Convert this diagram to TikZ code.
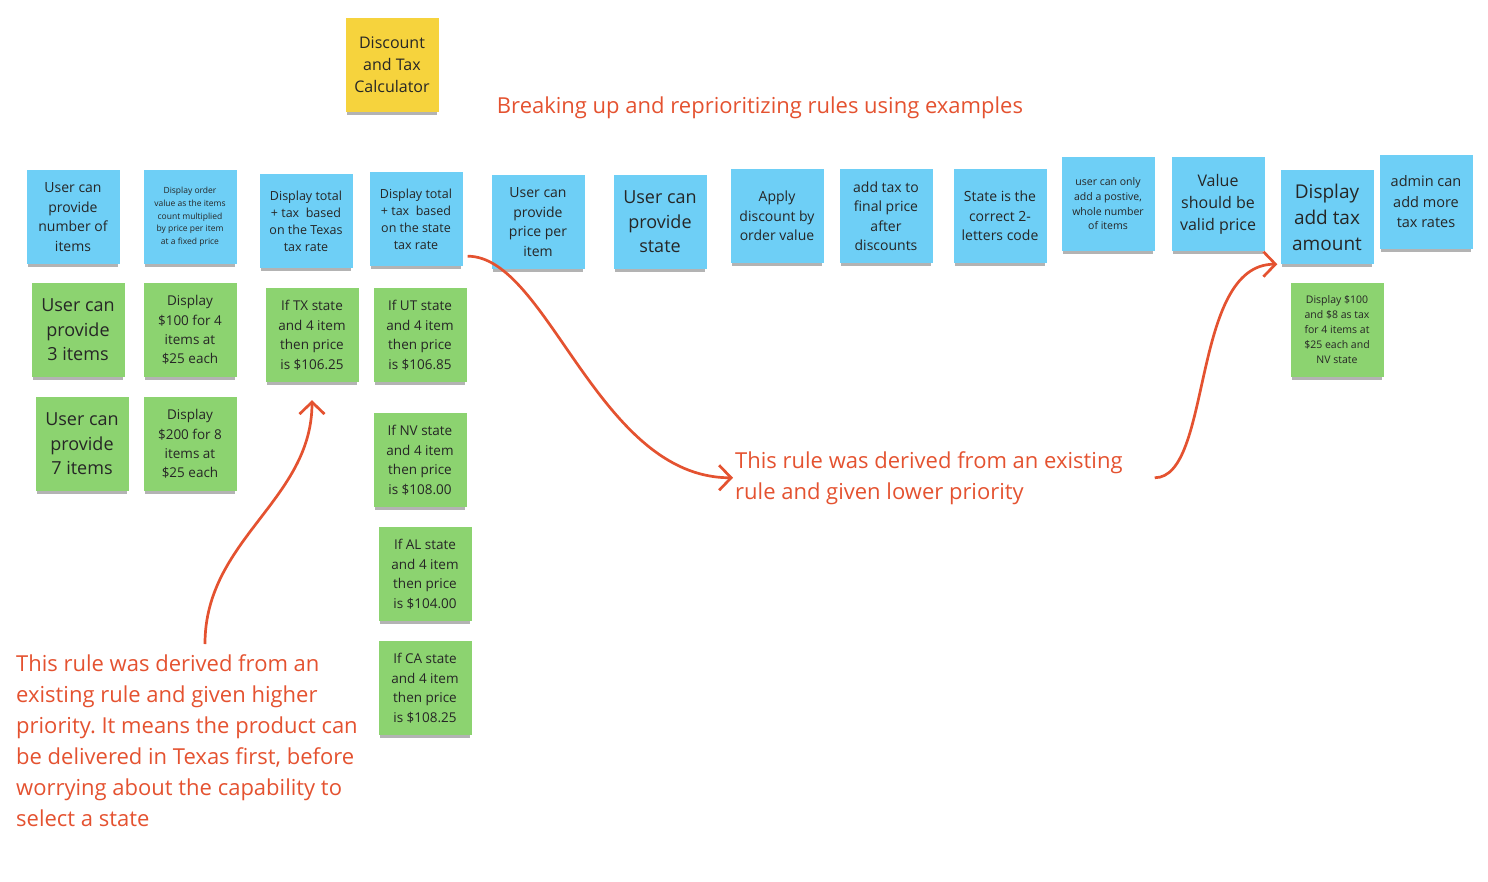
\documentclass[tikz,border=0pt]{standalone}
\usepackage{fontspec}
\setmainfont{Open Sans}
\usepackage{tikz}
\usetikzlibrary{arrows.meta,shadows}
\usepackage{xcolor}
\frenchspacing

\definecolor{noteblue}{RGB}{110,207,246}
\definecolor{notegreen}{RGB}{140,211,112}
\definecolor{noteyellow}{RGB}{246,211,61}
\definecolor{inkgray}{RGB}{38,38,38}
\definecolor{remarkred}{RGB}{228,82,48}

\begin{document}
\begin{tikzpicture}[
    x=1pt, y=-1pt,
    note/.style={minimum width=93pt, minimum height=94pt, inner sep=0pt, align=center, text=inkgray,
        general shadow={fill=black!75, opacity=0.4, shadow yshift=-5pt, shadow scale=0.96}},
    bluenote/.style={note, fill=noteblue},
    greennote/.style={note, fill=notegreen},
    yellownote/.style={note, fill=noteyellow},
    fs/.style 2 args={font=\fontsize{#1}{#2}\selectfont},
    remark/.style={text=remarkred, align=left, inner sep=0pt, fs={22}{31}},
    rulearrow/.style={draw=remarkred, line width=2.7pt, -{Straight Barb[length=12pt,width=25pt]}}
]
\useasboundingbox (0,0) rectangle (1488,881);

% Title
\node[yellownote, fs={16}{22}] (calc) at (392,65) {Discount\\and Tax\\Calculator};
\node[fs={22}{28}, text=remarkred] (title) at (760,108) {Breaking up and reprioritizing rules using examples};

% Rules
\node[bluenote, fs={14}{19.5}] (items) at (73,217) {User can\\provide\\number of\\items};
\node[bluenote, fs={8.5}{12.7}] (order) at (190,217) {Display order\\value as the items\\count multiplied\\by price per item\\at a fixed price};
\node[bluenote, fs={12.5}{17}] (texas) at (306,221) {Display total\\+ tax\ \ based\\on the Texas\\tax rate};
\node[bluenote, fs={12.5}{17}] (statetax) at (416,219) {Display total\\+ tax\ \ based\\on the state\\tax rate};
\node[bluenote, fs={14}{19.5}] (price) at (538,222) {User can\\provide\\price per\\item};
\node[bluenote, fs={18}{24.5}] (state) at (660,222) {User can\\provide\\state};
\node[bluenote, fs={14}{19.5}] (discount) at (777,216) {Apply\\discount by\\order value};
\node[bluenote, fs={14}{19.5}] (final) at (886,216) {add tax to\\final price\\after\\discounts};
\node[bluenote, fs={14}{19.5}] (code) at (1000,216) {State is the\\correct 2-\\letters code};
\node[bluenote, fs={10.5}{14.7}] (whole) at (1108,204) {user can only\\add a postive,\\whole number\\of items};
\node[bluenote, fs={16}{22}] (valid) at (1218,204) {Value\\should be\\valid price};
\node[bluenote, fs={19}{26}] (taxamount) at (1327,217) {Display\\add tax\\amount};
\node[bluenote, fs={14.5}{20.5}] (admin) at (1426,202) {admin can\\add more\\tax rates};

% Examples
\node[greennote, fs={18}{24.5}] (three) at (78,330) {User can\\provide\\3 items};
\node[greennote, fs={13.5}{19.2}] (hundred) at (190,330) {Display\\\$100 for 4\\items at\\\$25 each};
\node[greennote, fs={13.5}{19.5}] (tx) at (312,335) {If TX state\\and 4 item\\then price\\is \$106.25};
\node[greennote, fs={13.5}{19.5}] (ut) at (420,335) {If UT state\\and 4 item\\then price\\is \$106.85};
\node[greennote, fs={18}{24.5}] (seven) at (82,444) {User can\\provide\\7 items};
\node[greennote, fs={13.5}{19.2}] (twohundred) at (190,444) {Display\\\$200 for 8\\items at\\\$25 each};
\node[greennote, fs={13.5}{19.5}] (nv) at (420,460) {If NV state\\and 4 item\\then price\\is \$108.00};
\node[greennote, fs={13.5}{19.5}] (al) at (425,574) {If AL state\\and 4 item\\then price\\is \$104.00};
\node[greennote, fs={13.5}{19.5}] (ca) at (425,688) {If CA state\\and 4 item\\then price\\is \$108.25};
\node[greennote, fs={10.5}{15}] (taxexample) at (1337,330) {Display \$100\\and \$8 as tax\\for 4 items at\\\$25 each and\\NV state};

% Remarks
\node[remark, anchor=north west] (lower) at (735,451) {This rule was derived from an existing\\rule and given lower priority};
\node[remark, anchor=north west] (higher) at (16,654) {This rule was derived from an\\existing rule and given higher\\priority. It means the product can\\be delivered in Texas first, before\\worrying about the capability to\\select a state};

% Arrows
\draw[rulearrow] ([shift={(5,-10)}]statetax.south east) .. controls +(80,0) and +(-135,0) .. ([xshift=-2pt]lower.west);
\draw[rulearrow] ([xshift=32pt]lower.east) .. controls +(58,0) and +(-87,0) .. ([xshift=-3pt]taxamount.south west);
\draw[rulearrow] ([shift={(18,-10)}]higher.north) .. controls +(0,-105) and +(0,100) .. ([yshift=-18pt]tx.south);

\end{tikzpicture}
\end{document}
